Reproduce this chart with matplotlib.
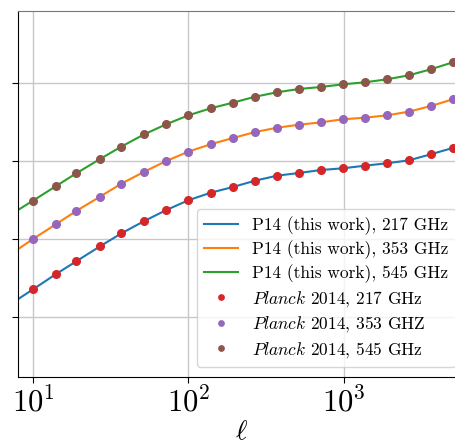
import numpy as np
import matplotlib.pyplot as plt
from matplotlib.ticker import NullLocator, FixedLocator

plt.rcParams['mathtext.fontset'] = 'cm'
plt.rcParams['font.family'] = 'serif'
plt.rcParams['font.serif'] = ['cmr10', 'DejaVu Serif']
plt.rcParams['axes.formatter.use_mathtext'] = True

# multipoles of the Planck 2014 bins
ell = [10, 14, 19, 27, 37, 52, 72, 100, 139, 193, 268, 371, 514, 711,
       986, 1366, 1892, 2620, 3625, 5020]

# Planck 2014 points
planck_217 = [2.26, 3.53, 5.18, 8.06, 11.8, 17.0, 23.5, 31.4, 39.2, 46.4,
              55.9, 64.8, 70.2, 76.7, 80.6, 87.1, 93.5, 102, 122, 147]
planck_353 = [10.0, 15.4, 22.9, 34.9, 51.2, 72.9, 100, 132, 164, 197,
              235, 267, 292, 313, 343, 359, 385, 429, 507, 618]
planck_545 = [31.0, 47.4, 69.6, 106, 153, 220, 296, 385, 474, 559,
              667, 760, 838, 889, 962, 1021, 1115, 1256, 1500, 1842]

# P14 model curves
ell_model = [8] + ell + [6000]
p14_217 = [1.69] + planck_217 + [164]
p14_353 = [7.38] + planck_353 + [702]
p14_545 = [23.5] + planck_545 + [2100]

fig = plt.figure(figsize=(4.56, 4.44), dpi=100)
ax = fig.add_axes([18 / 456, 67 / 444, 448 / 456, 366 / 444])

ax.plot(ell_model, p14_217, color='C0', lw=1.5, label='P14 (this work), 217 GHz')
ax.plot(ell_model, p14_353, color='C1', lw=1.5, label='P14 (this work), 353 GHz')
ax.plot(ell_model, p14_545, color='C2', lw=1.5, label='P14 (this work), 545 GHz')
ax.plot(ell, planck_217, 'o', color='C3', ms=5.5, label=r'$\mathit{Planck}$ 2014, 217 GHz')
ax.plot(ell, planck_353, 'o', color='C4', ms=5.5, label=r'$\mathit{Planck}$ 2014, 353 GHZ')
ax.plot(ell, planck_545, 'o', color='C5', ms=5.5, label=r'$\mathit{Planck}$ 2014, 545 GHz')

ax.set_xscale('log')
ax.set_yscale('log')
ax.set_xlim(8.01, 6100)
ax.set_ylim(10 ** (-60 / 78), 10 ** (306 / 78))
ax.xaxis.set_major_locator(FixedLocator([10, 100, 1000]))
ax.xaxis.set_minor_locator(NullLocator())
ax.yaxis.set_major_locator(FixedLocator([1, 10, 100, 1000]))
ax.yaxis.set_minor_locator(NullLocator())
ax.tick_params(axis='x', labelsize=22, length=4)
ax.tick_params(axis='y', labelleft=False, length=4)
ax.grid(True, color='#c8c8c8', lw=1.0)
ax.spines['top'].set_color('#777777')

ax.set_xlabel(r'$\ell$', fontsize=20, labelpad=0)

ax.legend(loc='lower right', fontsize=12.5, markerscale=0.7,
          handlelength=2.0, labelspacing=0.32, borderaxespad=0.6)

fig.savefig('out.png', dpi=100)
